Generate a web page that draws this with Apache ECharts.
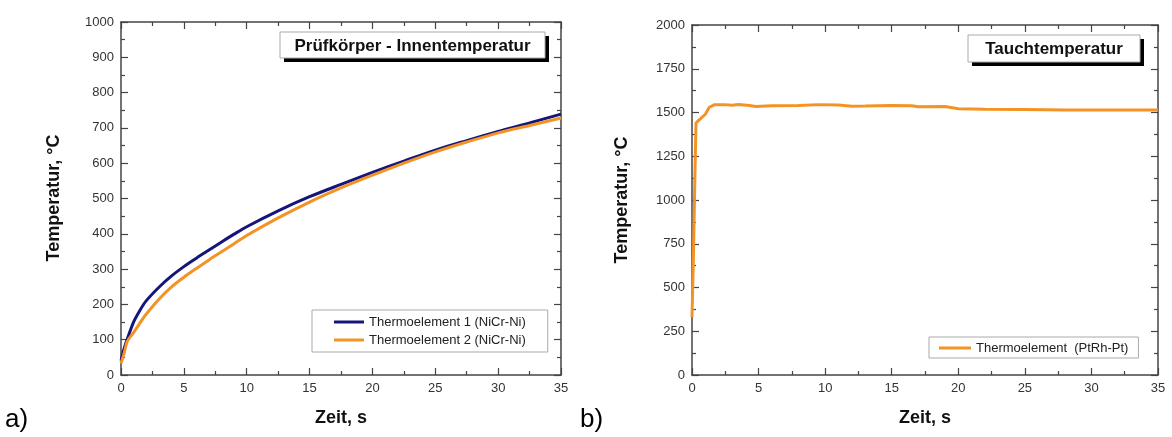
<!DOCTYPE html>
<html>
<head>
<meta charset="utf-8">
<script src="https://cdn.jsdelivr.net/npm/echarts@6/dist/echarts.min.js"></script>
<style>
  html, body { margin: 0; padding: 0; background: #fff; }
  #chart { width: 1172px; height: 437px; }
</style>
</head>
<body>
<div id="chart"></div>
<script>
// ---- data ----
const timeA = [0, 0.25, 0.5, 1, 1.5, 2, 3, 4, 5, 6, 7, 8, 9, 10, 12.5, 15, 17.5, 20, 22.5, 25, 27.5, 30, 32.5, 35];
const thermo1 = [40, 75, 102, 150, 183, 210, 248, 280, 307, 331, 354, 377, 399, 420, 465, 505, 540, 574, 606, 637, 664, 690, 714, 739];
const thermo2 = [33, 62, 95, 120, 147, 172, 214, 249, 277, 302, 326, 349, 372, 395, 445, 490, 530, 566, 600, 632, 660, 686, 707, 728];

const timeB = [0, 0.1, 0.2, 0.3, 0.5, 1, 1.3, 1.7, 2.5, 3, 3.5, 4.3, 4.8, 6, 8, 9.5, 11, 12, 13, 15, 16.5, 17, 19, 20, 22, 25, 28, 30, 35];
const tauch = [330, 650, 1060, 1440, 1455, 1490, 1530, 1545, 1545, 1542, 1546, 1540, 1534, 1538, 1540, 1545, 1543, 1536, 1537, 1540, 1538, 1533, 1534, 1522, 1519, 1517, 1514, 1514, 1514];

const seriesNames = ['Thermoelement 1 (NiCr-Ni)', 'Thermoelement 2 (NiCr-Ni)', 'Thermoelement  (PtRh-Pt)'];
const titles = ['Prüfkörper - Innentemperatur', 'Tauchtemperatur'];
const axisTitleY = 'Temperatur, °C';
const axisTitleX = 'Zeit, s';
const panelLabels = ['a)', 'b)'];
// axis ranges: [min, max, interval]
const xRange = [0, 35, 5];
const yRangeA = [0, 1000, 100];
const yRangeB = [0, 2000, 250];

// ---- styling ----
const FONT = 'Liberation Sans, Arial, Helvetica, sans-serif';
const AXIS_COLOR = '#444';
const BLUE = '#16167a';
const ORANGE = '#f39325';

function zip(xs, ys) { return xs.map((x, i) => [x, ys[i]]); }

function axis(gridIndex, position, range, showLabel) {
  return {
    type: 'value',
    gridIndex: gridIndex,
    position: position,
    min: range[0], max: range[1], interval: range[2],
    axisLine: { show: true, onZero: false, lineStyle: { color: AXIS_COLOR, width: 1.5 } },
    axisTick: { show: true, inside: true, length: 7, lineStyle: { color: AXIS_COLOR, width: 1.2 } },
    minorTick: { show: true, splitNumber: 2, length: 4, lineStyle: { color: AXIS_COLOR, width: 1.2 } },
    axisLabel: { show: showLabel, margin: 7, color: '#333', fontSize: 13, fontFamily: FONT,
                 formatter: function (v) { return String(v); } },
    splitLine: { show: false },
    minorSplitLine: { show: false }
  };
}

function titleBox(text, x, y, w, h) {
  return {
    type: 'group', x: x, y: y, z: 50,
    children: [
      { type: 'rect', shape: { x: 4, y: 4, width: w, height: h }, style: { fill: '#000' } },
      { type: 'rect', shape: { x: 0, y: 0, width: w, height: h }, style: { fill: '#fff', stroke: '#aaa', lineWidth: 1 } },
      { type: 'text', x: w / 2, y: h / 2 + 1,
        style: { text: text, font: 'bold 17px ' + FONT, fill: '#111', align: 'center', verticalAlign: 'middle' } }
    ]
  };
}

const chart = echarts.init(document.getElementById('chart'), null, { renderer: 'canvas' });

const option = {
  backgroundColor: '#fff',
  animation: false,
  legend: [
    {
      data: [seriesNames[0], seriesNames[1]],
      orient: 'vertical', left: 312, top: 310,
      padding: [5, 22, 5, 22], itemGap: 4,
      itemWidth: 30, itemHeight: 3, icon: 'rect',
      borderColor: '#aaa', borderWidth: 1, backgroundColor: '#fff',
      selectedMode: false,
      textStyle: { fontFamily: FONT, fontSize: 13, color: '#222', lineHeight: 14 }
    },
    {
      data: [seriesNames[2]],
      orient: 'vertical', left: 929, top: 337,
      padding: [4, 10, 3, 10], itemGap: 4,
      itemWidth: 32, itemHeight: 3, icon: 'rect',
      borderColor: '#aaa', borderWidth: 1, backgroundColor: '#fff',
      selectedMode: false,
      textStyle: { fontFamily: FONT, fontSize: 13, color: '#222', lineHeight: 14 }
    }
  ],
  grid: [
    { left: 121, top: 22, width: 440, height: 353, containLabel: false },
    { left: 692, top: 25, width: 466, height: 350, containLabel: false }
  ],
  xAxis: [
    axis(0, 'bottom', xRange, true),
    axis(0, 'top', xRange, false),
    axis(1, 'bottom', xRange, true),
    axis(1, 'top', xRange, false)
  ],
  yAxis: [
    axis(0, 'left', yRangeA, true),
    axis(0, 'right', yRangeA, false),
    axis(1, 'left', yRangeB, true),
    axis(1, 'right', yRangeB, false)
  ],
  series: [
    {
      name: seriesNames[0], type: 'line', xAxisIndex: 0, yAxisIndex: 0,
      data: zip(timeA, thermo1), showSymbol: false, symbol: 'none',
      smooth: 0.3,
      itemStyle: { color: BLUE }, lineStyle: { color: BLUE, width: 3 }
    },
    {
      name: seriesNames[1], type: 'line', xAxisIndex: 0, yAxisIndex: 0,
      data: zip(timeA, thermo2), showSymbol: false, symbol: 'none',
      smooth: 0.3,
      itemStyle: { color: ORANGE }, lineStyle: { color: ORANGE, width: 3 }
    },
    {
      name: seriesNames[2], type: 'line', xAxisIndex: 2, yAxisIndex: 2,
      data: zip(timeB, tauch), showSymbol: false, symbol: 'none',
      smooth: false,
      itemStyle: { color: ORANGE }, lineStyle: { color: ORANGE, width: 3 }
    }
  ],
  graphic: [
    titleBox(titles[0], 280, 32, 265, 26),
    titleBox(titles[1], 968, 35, 172, 27),
    { type: 'text', x: 54, y: 198, rotation: Math.PI / 2,
      style: { text: axisTitleY, font: 'bold 18px ' + FONT, fill: '#111', align: 'center', verticalAlign: 'middle' } },
    { type: 'text', x: 341, y: 418,
      style: { text: axisTitleX, font: 'bold 18px ' + FONT, fill: '#111', align: 'center', verticalAlign: 'middle' } },
    { type: 'text', x: 622, y: 200, rotation: Math.PI / 2,
      style: { text: axisTitleY, font: 'bold 18px ' + FONT, fill: '#111', align: 'center', verticalAlign: 'middle' } },
    { type: 'text', x: 925, y: 418,
      style: { text: axisTitleX, font: 'bold 18px ' + FONT, fill: '#111', align: 'center', verticalAlign: 'middle' } },
    { type: 'text', x: 5, y: 420,
      style: { text: panelLabels[0], font: '26px ' + FONT, fill: '#000', align: 'left', verticalAlign: 'middle' } },
    { type: 'text', x: 580, y: 420,
      style: { text: panelLabels[1], font: '26px ' + FONT, fill: '#000', align: 'left', verticalAlign: 'middle' } }
  ]
};

chart.setOption(option);
</script>
</body>
</html>
